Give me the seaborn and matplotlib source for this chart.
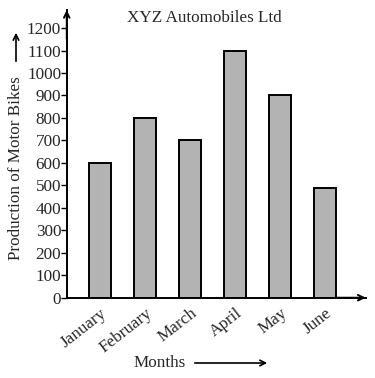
import matplotlib
matplotlib.use('Agg')
import matplotlib.pyplot as plt
import seaborn as sns
import pandas as pd

months = ['January', 'February', 'March', 'April', 'May', 'June']
production = [600, 800, 700, 1100, 900, 490]
yticks = list(range(0, 1300, 100))

sns.set_style('white')
plt.rcParams['font.family'] = ['Liberation Serif', 'DejaVu Serif']
FS = 12.3

df = pd.DataFrame({'month': months, 'bikes': production})

fig = plt.figure(figsize=(3.75, 3.78), dpi=100)
ax = fig.add_axes([0.178, 0.2124, 0.797, 0.761])

sns.barplot(data=df, x='month', y='bikes', color='#b3b3b3', saturation=1,
            edgecolor='black', linewidth=1.4, width=0.5, ax=ax)

ax.set_xlim(-0.74, 5.9)
ax.set_ylim(0, 1280)
ax.set_yticks(yticks)
ax.set_yticklabels([str(v) for v in yticks], fontsize=FS)
ax.tick_params(axis='y', which='both', left=True, length=4, width=1, pad=0, color='black')
ax.tick_params(axis='x', bottom=False, pad=2)
for lab in ax.get_xticklabels():
    lab.set_rotation(38)
    lab.set_ha('right')
    lab.set_rotation_mode('anchor')
    lab.set_fontsize(FS)
ax.set_xlabel('')
ax.set_ylabel('')

for s in ['top', 'right']:
    ax.spines[s].set_visible(False)
for s in ['left', 'bottom']:
    ax.spines[s].set_color('black')
    ax.spines[s].set_linewidth(1.4)

# arrow heads on the axes
ax.annotate('', xy=(1.0, 0), xytext=(0.9, 0), xycoords='axes fraction',
            arrowprops=dict(arrowstyle='->', color='black', lw=1.4, shrinkA=0, shrinkB=0))
ax.annotate('', xy=(0, 1.0), xytext=(0, 0.9), xycoords='axes fraction',
            arrowprops=dict(arrowstyle='->', color='black', lw=1.4, shrinkA=0, shrinkB=0))

fig.text(204 / 375, 1 - 18 / 378, 'XYZ Automobiles Ltd', ha='center', va='center', fontsize=FS)
fig.text(16 / 375, 1 - 168 / 378, 'Production of Motor Bikes', rotation=90,
         ha='center', va='center', fontsize=FS)
fig.add_artist(matplotlib.patches.FancyArrowPatch(
    (16 / 375, 1 - 64 / 378), (16 / 375, 1 - 30 / 378), transform=fig.transFigure,
    arrowstyle='->', mutation_scale=10, color='black', lw=1.2))

fig.text(160 / 375, 1 - 363 / 378, 'Months', ha='center', va='center', fontsize=FS)
fig.add_artist(matplotlib.patches.FancyArrowPatch(
    (192 / 375, 1 - 363 / 378), (270 / 375, 1 - 363 / 378), transform=fig.transFigure,
    arrowstyle='->', mutation_scale=10, color='black', lw=1.2))

fig.savefig('out.png', dpi=100)
